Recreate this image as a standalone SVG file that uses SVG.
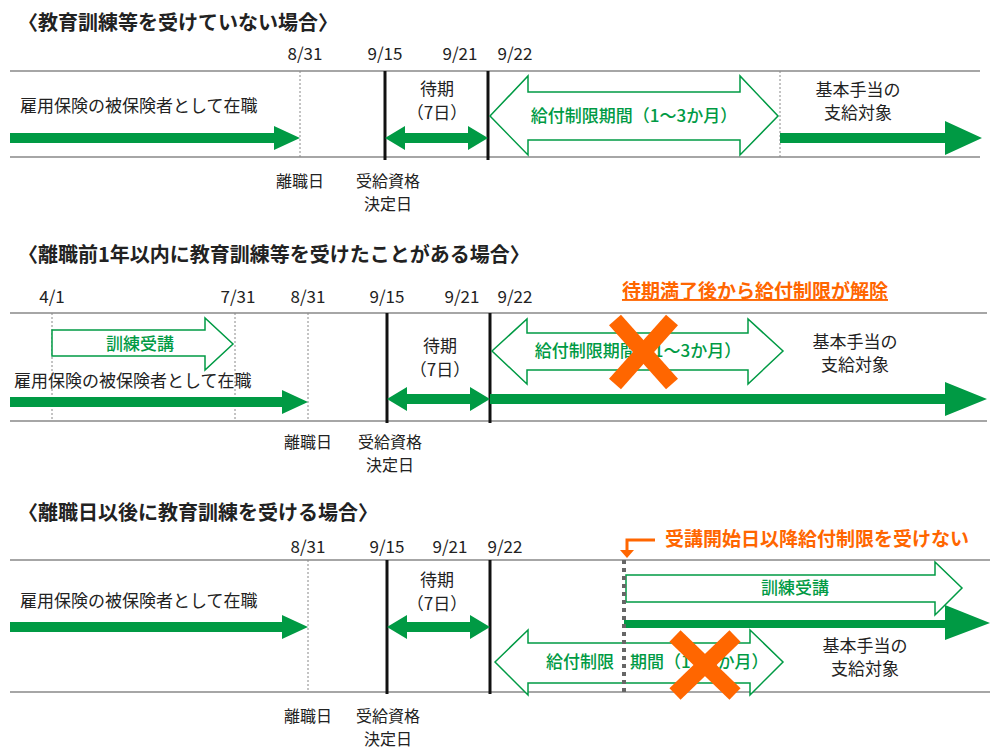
<svg xmlns="http://www.w3.org/2000/svg" width="1000" height="753" viewBox="0 0 1000 753">
<style>
text{font-family:"Noto Sans CJK JP","Noto Sans",sans-serif;font-size:17px;fill:#222}
.h{font-size:20px;font-weight:bold}
.g{fill:#009a44;font-weight:500}
.o{fill:#ff6600;font-weight:bold;font-size:19px}
.c{text-anchor:middle}
.s{font-size:16px}
.hl{stroke:#888;stroke-width:1.5}
.dot{stroke:#888;stroke-width:1;stroke-dasharray:2 2}
.sol{stroke:#111;stroke-width:3}
.ol{fill:#fff;stroke:#009a44;stroke-width:1.5}
.fl{fill:#009a44}
.x{stroke:#ff6600;stroke-width:16}
</style>
<text class="h" x="18" y="30">〈教育訓練等を受けていない場合〉</text>
<text class="h" x="18" y="262">〈離職前1年以内に教育訓練等を受けたことがある場合〉</text>
<text class="h" x="18" y="520">〈離職日以後に教育訓練を受ける場合〉</text>
<g id="section1">
<line class="hl" x1="10" y1="71" x2="980" y2="71"/><line class="hl" x1="10" y1="157" x2="980" y2="157"/>
<line class="dot" x1="300" y1="71" x2="300" y2="157"/><line class="sol" x1="385" y1="71" x2="385" y2="160"/><line class="sol" x1="488" y1="71" x2="488" y2="160"/><line class="dot" x1="780" y1="71" x2="780" y2="157"/>
<text class="c" x="305" y="60">8/31</text><text class="c" x="385" y="60">9/15</text><text class="c" x="460" y="60">9/21</text><text class="c" x="515" y="60">9/22</text>
<path class="fl" d="M10 133H274V126L300 138L274 150V143H10Z"/>
<path class="fl" d="M385 138L405 126V133H468V126L488 138L468 150V143H405V150Z"/>
<path class="ol" d="M490 116L528 76V92H740V76L778 116L740 155V140H528V155Z"/>
<path class="fl" d="M780 133H945V121L982 138L945 155V143H780Z"/>
<text x="20" y="112">雇用保険の被保険者として在職</text>
<text class="c" x="437" y="95">待期</text><text class="c" x="437" y="119">（7日）</text>
<text class="c g" x="634" y="122">給付制限期間（1～3か月）</text>
<text class="c" x="858" y="96">基本手当の</text><text class="c" x="858" y="119">支給対象</text>
<text class="c s" x="300" y="187">離職日</text><text class="c s" x="388" y="187">受給資格</text><text class="c s" x="388" y="210">決定日</text>
</g>
<g id="section2">
<line class="hl" x1="10" y1="313" x2="987" y2="313"/><line class="hl" x1="10" y1="421" x2="987" y2="421"/>
<line class="dot" x1="52" y1="313" x2="52" y2="421"/><line class="dot" x1="235" y1="313" x2="235" y2="421"/><line class="dot" x1="308" y1="313" x2="308" y2="421"/>
<line class="sol" x1="387" y1="313" x2="387" y2="423"/><line class="sol" x1="490" y1="313" x2="490" y2="423"/>
<text class="c" x="52" y="303">4/1</text><text class="c" x="238" y="303">7/31</text><text class="c" x="308" y="303">8/31</text><text class="c" x="387" y="303">9/15</text><text class="c" x="462" y="303">9/21</text><text class="c" x="515" y="303">9/22</text>
<text class="o c" x="755" y="298" text-decoration="underline">待期満了後から給付制限が解除</text>
<path class="ol" d="M52 330H205V318L233 344L205 370V356H52Z"/>
<text class="c g" x="140" y="350">訓練受講</text>
<path class="fl" d="M10 397H282V390L308 402L282 414V407H10Z"/>
<path class="fl" d="M387 399L407 387V394H470V387L490 399L470 411V404H407V411Z"/>
<path class="fl" d="M490 394H945V382L987 399L945 416V404H490Z"/>
<path class="ol" d="M492 351L527 319V333H748V319L783 351L748 384V370H527V384Z"/>
<text class="c g" x="638" y="357">給付制限期間（1～3か月）</text>
<line class="x" x1="615" y1="320" x2="672" y2="384"/><line class="x" x1="672" y1="320" x2="615" y2="384"/>
<text x="14" y="387">雇用保険の被保険者として在職</text>
<text class="c" x="440" y="352">待期</text><text class="c" x="440" y="376">（7日）</text>
<text class="c" x="855" y="348">基本手当の</text><text class="c" x="855" y="371">支給対象</text>
<text class="c s" x="308" y="448">離職日</text><text class="c s" x="390" y="448">受給資格</text><text class="c s" x="390" y="471">決定日</text>
</g>
<g id="section3">
<line class="hl" x1="10" y1="560" x2="990" y2="560"/><line class="hl" x1="10" y1="692" x2="990" y2="692"/>
<line class="dot" x1="308" y1="560" x2="308" y2="692"/>
<line class="sol" x1="387" y1="560" x2="387" y2="694"/><line class="sol" x1="490" y1="560" x2="490" y2="694"/>
<text class="c" x="308" y="553">8/31</text><text class="c" x="387" y="553">9/15</text><text class="c" x="450" y="553">9/21</text><text class="c" x="505" y="553">9/22</text>
<path class="ol" d="M495 662L528 630V643H750V630L783 662L750 695V683H528V695Z"/>
<text class="g" x="546" y="668">給付制限</text><text class="g" x="630" y="668">期間（1～3か月）</text>
<path class="ol" d="M626 575H935V562L962 588L935 615V602H626Z"/>
<text class="c g" x="795" y="594">訓練受講</text>
<path class="fl" d="M624 620H945V605L990 623L945 640V628H624Z"/>
<line x1="624" y1="560" x2="624" y2="692" stroke="#666" stroke-width="4" stroke-dasharray="4 4"/>
<line class="x" x1="675" y1="636" x2="735" y2="694"/><line class="x" x1="735" y1="636" x2="675" y2="694"/>
<path d="M655 540H627V552" fill="none" stroke="#ff6600" stroke-width="3"/>
<path d="M620 550H634L627 558Z" fill="#ff6600"/>
<text class="o" x="665" y="546">受講開始日以降給付制限を受けない</text>
<path class="fl" d="M10 622H282V615L308 627L282 639V632H10Z"/>
<path class="fl" d="M387 627L407 615V622H470V615L490 627L470 639V632H407V639Z"/>
<text x="20" y="607">雇用保険の被保険者として在職</text>
<text class="c" x="437" y="586">待期</text><text class="c" x="437" y="610">（7日）</text>
<text class="c" x="865" y="652">基本手当の</text><text class="c" x="865" y="675">支給対象</text>
<text class="c s" x="308" y="722">離職日</text><text class="c s" x="388" y="722">受給資格</text><text class="c s" x="388" y="745">決定日</text>
</g>
</svg>
